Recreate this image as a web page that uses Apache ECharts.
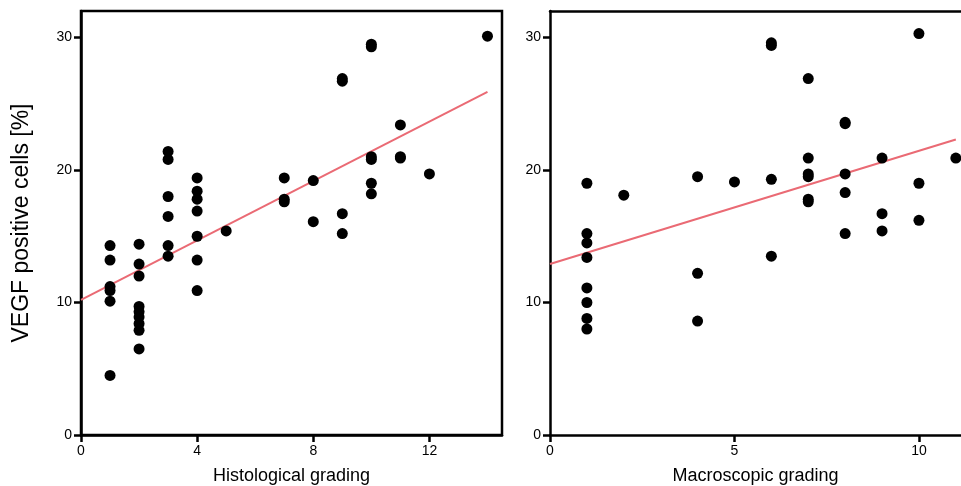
<!DOCTYPE html>
<html>
<head>
<meta charset="utf-8">
<script src="https://cdn.jsdelivr.net/npm/echarts@6/dist/echarts.min.js"></script>
<style>
  html, body { margin: 0; padding: 0; background: #fff; }
  #chart { width: 961px; height: 486px; }
</style>
</head>
<body>
<div id="chart"></div>
<script>
// histological grading vs VEGF positive cells [%]
var histoX = [1, 1, 1, 1, 1, 1,
  2, 2, 2, 2, 2, 2, 2, 2, 2,
  3, 3, 3, 3, 3, 3,
  4, 4, 4, 4, 4, 4, 4,
  5, 7, 7, 7, 8, 8, 9, 9, 9, 9,
  10, 10, 10, 10, 10, 10, 11, 11, 11, 12, 14];
var histoY = [14.3, 13.2, 11.2, 10.9, 10.1, 4.5,
  14.4, 12.9, 12.0, 9.7, 9.3, 8.9, 8.4, 7.9, 6.5,
  21.4, 20.8, 18.0, 16.5, 14.3, 13.5,
  19.4, 18.4, 17.8, 16.9, 15.0, 13.2, 10.9,
  15.4, 19.4, 17.8, 17.6, 19.2, 16.1, 26.7, 26.9, 16.7, 15.2,
  29.3, 29.5, 20.8, 21.0, 19.0, 18.2, 23.4, 20.9, 21.0, 19.7, 30.1];
var histoFitX = [0, 14];
var histoFitY = [10.2, 25.9];
var histoTicks = [0, 4, 8, 12];

// macroscopic grading vs VEGF positive cells [%]
var macroX = [1, 1, 1, 1, 1, 1, 1, 1,
  2, 4, 4, 4, 5,
  6, 6, 6, 6,
  7, 7, 7, 7, 7, 7,
  8, 8, 8, 8, 8,
  9, 9, 9, 10, 10, 10, 11];
var macroY = [19.0, 15.2, 14.5, 13.4, 11.1, 10.0, 8.8, 8.0,
  18.1, 19.5, 12.2, 8.6, 19.1,
  29.4, 29.6, 19.3, 13.5,
  26.9, 20.9, 19.5, 19.7, 17.6, 17.8,
  23.5, 23.6, 19.7, 18.3, 15.2,
  20.9, 16.7, 15.4, 30.3, 19.0, 16.2, 20.9];
var macroFitX = [0, 11];
var macroFitY = [12.9, 22.3];
var macroTicks = [0, 5, 10];

var yTicks = [0, 10, 20, 30];

function pairs(xs, ys) {
  return xs.map(function (x, i) { return [x, ys[i]]; });
}

var font = 'Arial, "Liberation Sans", sans-serif';
var axisCommon = {
  type: 'value',
  splitLine: { show: false },
  axisLine: { show: true, onZero: false, lineStyle: { color: '#000', width: 2.5 } },
  axisTick: { show: true, length: 7, lineStyle: { color: '#000', width: 2.5 } },
  axisLabel: { color: '#000', fontSize: 14, fontFamily: font, margin: 9 },
  nameTextStyle: { color: '#000', fontSize: 18, fontFamily: font }
};

function xAxisDef(gridIndex, max, ticks, name) {
  return echarts.util.merge({
    gridIndex: gridIndex,
    min: 0,
    max: max,
    name: name,
    nameLocation: 'middle',
    nameGap: 32,
    axisTick: { customValues: ticks },
    axisLabel: { customValues: ticks }
  }, echarts.util.clone(axisCommon), false);
}

// plain frame line along the top of a plot
function topFrame(gridIndex, max) {
  return {
    type: 'value', gridIndex: gridIndex, position: 'top', min: 0, max: max,
    splitLine: { show: false }, axisTick: { show: false }, axisLabel: { show: false },
    axisLine: { show: true, onZero: false, lineStyle: { color: '#000', width: 2.5 } }
  };
}

function yAxisDef(gridIndex, name) {
  return echarts.util.merge({
    gridIndex: gridIndex,
    min: 0,
    max: 32,
    name: name,
    nameLocation: 'middle',
    nameGap: 48,
    nameTextStyle: { fontSize: 23 },
    axisTick: { customValues: yTicks },
    axisLabel: { customValues: yTicks }
  }, echarts.util.clone(axisCommon), false);
}

var chart = echarts.init(document.getElementById('chart'));
var option = {
  backgroundColor: '#fff',
  animation: false,
  grid: [
    { left: 81, top: 11, width: 421, height: 424, outerBoundsMode: 'none', show: true, borderColor: '#000', borderWidth: 2.5, backgroundColor: 'transparent' },
    { left: 550, top: 11, right: 0, height: 424, outerBoundsMode: 'none' }
  ],
  xAxis: [
    xAxisDef(0, 14.5, histoTicks, 'Histological grading'),
    xAxisDef(1, 11.14, macroTicks, 'Macroscopic grading'),
    topFrame(1, 11.14)
  ],
  yAxis: [
    yAxisDef(0, 'VEGF positive cells [%]'),
    yAxisDef(1, '')
  ],
  series: [
    {
      type: 'line', xAxisIndex: 0, yAxisIndex: 0,
      data: pairs(histoFitX, histoFitY),
      symbol: 'none', lineStyle: { color: '#ea6a74', width: 2 }, z: 1
    },
    {
      type: 'scatter', xAxisIndex: 0, yAxisIndex: 0,
      data: pairs(histoX, histoY),
      symbolSize: 11, itemStyle: { color: '#000', opacity: 1 }, z: 2
    },
    {
      type: 'line', xAxisIndex: 1, yAxisIndex: 1,
      data: pairs(macroFitX, macroFitY),
      symbol: 'none', lineStyle: { color: '#ea6a74', width: 2 }, z: 1
    },
    {
      type: 'scatter', xAxisIndex: 1, yAxisIndex: 1,
      data: pairs(macroX, macroY),
      symbolSize: 11, clip: false, itemStyle: { color: '#000', opacity: 1 }, z: 2
    }
  ]
};
chart.setOption(option);
</script>
</body>
</html>
